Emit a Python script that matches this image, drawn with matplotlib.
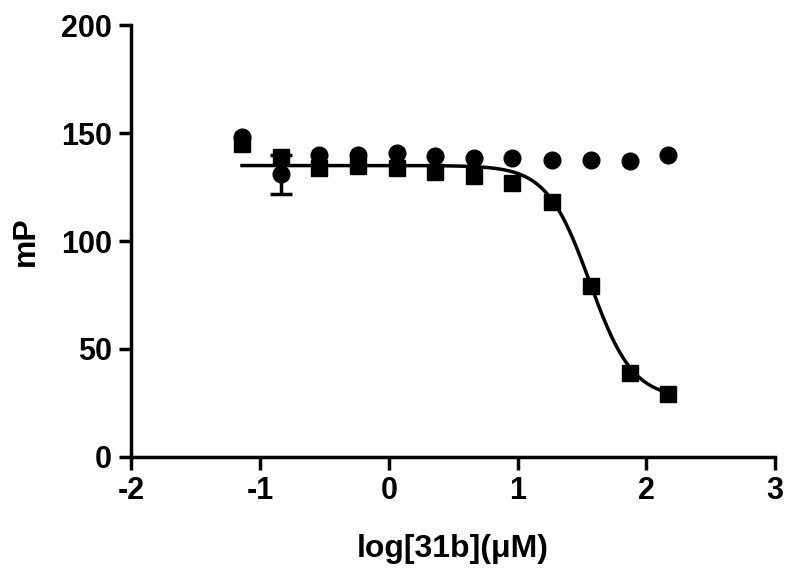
import numpy as np
import matplotlib
matplotlib.use('Agg')
import matplotlib.pyplot as plt

plt.rcParams['font.family'] = 'Liberation Sans'
plt.rcParams['font.weight'] = 'bold'
plt.rcParams['axes.unicode_minus'] = False

# log concentrations
log_conc = [-1.14, -0.84, -0.54, -0.24, 0.06, 0.36, 0.66, 0.96, 1.27, 1.57, 1.87, 2.17]

# squares (dose-response) and circles (control)
mp_squares = [145, 139, 134, 135, 134, 132, 130, 127, 118, 79, 39, 29]
mp_circles = [148, 131, 140, 140, 141, 139.5, 138.5, 138.5, 137.5, 137.5, 137, 140]
err_circles = [0, 9, 0, 0, 0, 0, 0, 0, 0, 0, 0, 0]

# 4-parameter logistic fit for the squares
top, bottom, log_ic50, hill = 135, 27, 1.56, 2.6

xfit = np.linspace(min(log_conc), max(log_conc), 300)
yfit = bottom + (top - bottom) / (1 + 10 ** ((xfit - log_ic50) * hill))

fig = plt.figure(figsize=(8, 5.74), dpi=100)
ax = fig.add_axes([0.164, 0.204, 0.805, 0.752])

ax.plot(xfit, yfit, color='black', lw=2.5)

# error bars only where there is an error
idx = [i for i, e in enumerate(err_circles) if e > 0]
ax.errorbar([log_conc[i] for i in idx], [mp_circles[i] for i in idx],
            yerr=[err_circles[i] for i in idx], fmt='none', ecolor='black',
            capsize=8, capthick=2.5, elinewidth=2.5)
ax.plot(log_conc, mp_circles, 'o', color='black', ms=12)
ax.plot(log_conc, mp_squares, 's', color='black', ms=11.5)

ax.set_xlim(-2, 3)
ax.set_ylim(0, 200)
ax.set_xticks([-2, -1, 0, 1, 2, 3])
ax.set_yticks([0, 50, 100, 150, 200])

for s in ['top', 'right']:
    ax.spines[s].set_visible(False)
for s in ['left', 'bottom']:
    ax.spines[s].set_linewidth(2.5)

ax.tick_params(width=2.5, length=9, labelsize=22, direction='out', pad=5)
ax.set_xlabel('log[31b](\u03bcM)', fontsize=23, fontweight='bold', labelpad=20)
ax.set_ylabel('mP', fontsize=23, fontweight='bold', labelpad=14)

plt.savefig('out.png', dpi=100)
